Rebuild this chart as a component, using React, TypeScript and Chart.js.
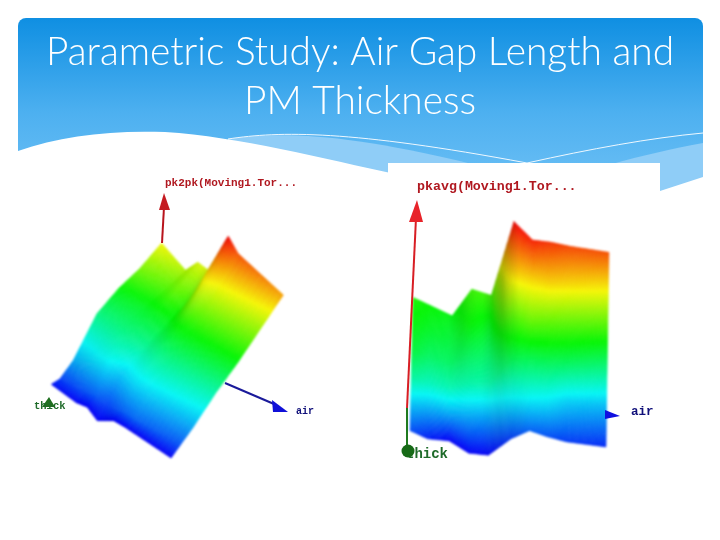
import React, { useEffect, useRef } from "react";
import { Chart, registerables } from "chart.js";

Chart.register(...registerables);

const titleLines = ["Parametric Study: Air Gap Length and", "PM Thickness"];

// pk2pk surface
const pk2pkAir = [0, 0.21, 0.3, 0.39, 0.52, 0.61, 1];
const pk2pkThick = [0, 0.2, 0.4, 0.6, 0.8, 0.92, 1];
const pk2pkValues = [
  [0.7, 0.63, 0.71, 0.7, 0.94, 0.88, 0.8],
  [0.58, 0.54, 0.57, 0.53, 0.72, 0.69, 0.635],
  [0.49, 0.46, 0.47, 0.43, 0.5, 0.5, 0.47],
  [0.37, 0.38, 0.37, 0.33, 0.38, 0.37, 0.32],
  [0.13, 0.22, 0.24, 0.2, 0.2, 0.2, 0.15],
  [0.04, 0.05, 0.06, 0.04, 0.06, 0.06, 0.06],
  [0.02, 0, 0.01, -0.03, 0.02, 0.02, 0],
];
const pk2pkLevels = [
  [0.75, 0.68, 0.72, 0.72, 1.0, 0.92, 0.84],
  [0.62, 0.57, 0.6, 0.55, 0.76, 0.72, 0.66],
  [0.49, 0.46, 0.47, 0.45, 0.52, 0.52, 0.49],
  [0.37, 0.38, 0.37, 0.34, 0.38, 0.38, 0.33],
  [0.17, 0.24, 0.25, 0.2, 0.22, 0.22, 0.17],
  [0.06, 0.08, 0.09, 0.06, 0.09, 0.1, 0.08],
  [0.02, 0, 0, 0, 0, 0, 0],
];

// pkavg surface
const pkavgAir = [0, 0.09, 0.2, 0.3, 0.4, 0.515, 0.61, 0.7, 0.8, 1];
const pkavgThick = [0, 0.2, 0.4, 0.6, 0.8, 1];
const pkavgValues = [
  [0.72, 0.68, 0.63, 0.76, 0.73, 1.09, 1.0, 0.99, 0.97, 0.94],
  [0.59, 0.56, 0.51, 0.6, 0.58, 0.85, 0.8, 0.79, 0.78, 0.75],
  [0.46, 0.43, 0.4, 0.46, 0.44, 0.62, 0.6, 0.6, 0.59, 0.56],
  [0.33, 0.3, 0.28, 0.3, 0.3, 0.42, 0.42, 0.42, 0.41, 0.38],
  [0.2, 0.17, 0.15, 0.15, 0.14, 0.22, 0.25, 0.23, 0.21, 0.19],
  [0.07, 0.03, 0.02, -0.04, -0.05, 0.03, 0.07, 0.04, 0.015, -0.01],
];
const pkavgLevels = [
  [0.53, 0.5, 0.48, 0.56, 0.56, 1.0, 0.97, 0.95, 0.93, 0.92],
  [0.49, 0.46, 0.44, 0.5, 0.47, 0.8, 0.78, 0.79, 0.78, 0.75],
  [0.44, 0.4, 0.4, 0.42, 0.4, 0.58, 0.6, 0.6, 0.59, 0.56],
  [0.34, 0.31, 0.32, 0.33, 0.33, 0.42, 0.42, 0.43, 0.42, 0.38],
  [0.2, 0.17, 0.17, 0.18, 0.17, 0.24, 0.27, 0.25, 0.21, 0.19],
  [0.08, 0.03, 0, 0, 0, 0.06, 0.1, 0.08, 0.06, 0.04],
];

type View = (u: number, w: number, z: number) => [number, number];
const leftView: View = (u, w, z) => [149 + 120 * u - 98 * w + 18 * z, 369 + 70 * u + 19 * w - 180 * z];
const rightView: View = (u, w, z) => [413 + 196 * u - 3 * w, 445 - 205 * z];

function sample(table: number[][], air: number[], thick: number[], u: number, w: number) {
  const find = (a: number[], v: number) => {
    let i = 0;
    while (i < a.length - 2 && v > a[i + 1]) i++;
    return [i, Math.min(1, Math.max(0, (v - a[i]) / (a[i + 1] - a[i])))];
  };
  const [i, fu] = find(air, u);
  const [j, fw] = find(thick, w);
  const top = table[j][i] * (1 - fu) + table[j][i + 1] * fu;
  const bot = table[j + 1][i] * (1 - fu) + table[j + 1][i + 1] * fu;
  return top * (1 - fw) + bot * fw;
}

const surfaces = [
  { air: pk2pkAir, thick: pk2pkThick, values: pk2pkValues, levels: pk2pkLevels, view: leftView },
  { air: pkavgAir, thick: pkavgThick, values: pkavgValues, levels: pkavgLevels, view: rightView },
];
const COL_STEPS = 10;
const ROW_STEPS = 24;

const axes = [
  { color: "#b8141c", pts: [{ x: 162, y: 243 }, { x: 164, y: 207 }] },
  { color: "#1a1a9a", pts: [{ x: 225, y: 383 }, { x: 274, y: 404 }] },
  { color: "#d81e24", pts: [{ x: 407, y: 408 }, { x: 416, y: 218 }] },
  { color: "#1f7a1f", pts: [{ x: 407, y: 408 }, { x: 407, y: 448 }] },
];
const arrowHeads = [
  { color: "#c41a20", pts: [[159, 210], [170, 210], [164, 193]] },
  { color: "#1010d8", pts: [[272, 400], [273, 412], [288, 412]] },
  { color: "#e8242a", pts: [[409, 222], [423, 222], [417, 200]] },
  { color: "#1010e0", pts: [[605, 410], [605, 419], [620, 416]] },
  { color: "#1f6f1f", pts: [[42, 407], [55, 407], [49, 397]] },
];
const labels = [
  { text: "pk2pk(Moving1.Tor...", x: 165, y: 183, size: 11, color: "#b01820" },
  { text: "thick", x: 34, y: 406, size: 10.5, color: "#1f6b2a" },
  { text: "air", x: 296, y: 411, size: 10, color: "#10107a" },
  { text: "pkavg(Moving1.Tor...", x: 417, y: 187, size: 13.3, color: "#b01820" },
  { text: "thick", x: 406, y: 454, size: 14, color: "#1f6b2a" },
  { text: "air", x: 631, y: 412, size: 12.5, color: "#10107a" },
];

const thinLine = (ctx: any, X: any, Y: any, start: boolean) => {
  if (start) ctx.moveTo(X(228), Y(139));
  ctx.bezierCurveTo(X(280), Y(131), X(350), Y(130), X(527), Y(163));
  ctx.bezierCurveTo(X(590), Y(149), X(650), Y(138), X(703), Y(133));
};

const backdrop = {
  id: "backdrop",
  beforeDatasetsDraw(chart: any) {
    const { ctx, scales } = chart;
    const X = (v: number) => scales.x.getPixelForValue(v);
    const Y = (v: number) => scales.y.getPixelForValue(v);

    ctx.save();
    const grad = ctx.createLinearGradient(0, Y(18), 0, Y(190));
    grad.addColorStop(0, "#0f8fe2");
    grad.addColorStop(0.55, "#4db0f0");
    grad.addColorStop(1, "#6dc0f5");
    ctx.fillStyle = grad;
    ctx.beginPath();
    ctx.roundRect(X(18), Y(18), X(703) - X(18), Y(195) - Y(18), [8, 8, 0, 0]);
    ctx.fill();

    // light bands
    ctx.fillStyle = "#8fcdf7";
    ctx.beginPath();
    ctx.moveTo(X(228), Y(139));
    ctx.bezierCurveTo(X(280), Y(132), X(340), Y(132), X(472), Y(164));
    ctx.lineTo(X(480), Y(200));
    ctx.lineTo(X(228), Y(200));
    ctx.closePath();
    ctx.fill();
    ctx.beginPath();
    ctx.moveTo(X(612), Y(164));
    ctx.bezierCurveTo(X(640), Y(156), X(675), Y(148), X(703), Y(143));
    ctx.lineTo(X(703), Y(200));
    ctx.lineTo(X(612), Y(200));
    ctx.closePath();
    ctx.fill();

    ctx.strokeStyle = "#eef8ff";
    ctx.lineWidth = 1;
    ctx.beginPath();
    thinLine(ctx, X, Y, true);
    ctx.stroke();

    // white lower part
    ctx.fillStyle = "#ffffff";
    ctx.beginPath();
    ctx.moveTo(X(18), Y(151));
    ctx.bezierCurveTo(X(60), Y(136), X(110), Y(130), X(165), Y(132));
    ctx.bezierCurveTo(X(240), Y(137), X(320), Y(158), X(400), Y(175));
    ctx.lineTo(X(660), Y(191));
    ctx.lineTo(X(703), Y(177));
    ctx.lineTo(X(703), Y(205));
    ctx.lineTo(X(18), Y(205));
    ctx.closePath();
    ctx.fill();
    ctx.fillRect(X(388), Y(163), X(660) - X(388), Y(205) - Y(163));

    // title
    ctx.fillStyle = "#ffffff";
    ctx.textAlign = "center";
    ctx.textBaseline = "middle";
    ctx.font = '300 38.9px Lato';
    ctx.fillText(titleLines[0], X(360), Y(52));
    ctx.fillText(titleLines[1], X(360), Y(101));

    // surfaces, painted from the back to the front on a layer softened as a whole
    const layer = document.createElement("canvas");
    layer.width = ctx.canvas.width;
    layer.height = ctx.canvas.height;
    const lc = layer.getContext("2d")!;
    for (const s of surfaces) {
      const { air, thick, values, levels, view } = s;
      const ptsAt = (ci: number, cj: number) => {
        const i = Math.min(air.length - 2, Math.floor(ci));
        const j = Math.min(thick.length - 2, Math.floor(cj));
        const u = air[i] + (air[i + 1] - air[i]) * (ci - i);
        const w = thick[j] + (thick[j + 1] - thick[j]) * (cj - j);
        return [u, w];
      };
      const project = (ci: number, cj: number) => {
        const [u, w] = ptsAt(ci, cj);
        const [x, y] = view(u, w, sample(values, air, thick, u, w));
        return [X(x), Y(y)];
      };
      for (let j = 0; j < thick.length - 1; j++) {
        for (let a = 0; a < ROW_STEPS; a++) {
          for (let i = 0; i < air.length - 1; i++) {
            for (let b = 0; b < COL_STEPS; b++) {
              const c0 = i + b / COL_STEPS;
              const c1 = i + (b + 1) / COL_STEPS;
              const r0 = j + a / ROW_STEPS;
              const r1 = j + (a + 1) / ROW_STEPS;
              const [u, w] = ptsAt((c0 + c1) / 2, (r0 + r1) / 2);
              const lvl = Math.max(0, Math.min(1, sample(levels, air, thick, u, w)));
              const slope =
                (sample(values, air, thick, Math.min(1, u + 0.05), w) -
                  sample(values, air, thick, Math.max(0, u - 0.05), w)) / 0.1;
              const shade = 1 - Math.min(0.25, Math.max(0, slope) * 0.09);
              const color = `hsl(${240 * (1 - lvl)},100%,${48 * shade}%)`;
              lc.fillStyle = color;
              lc.strokeStyle = color;
              lc.lineWidth = 0.5;
              const p = [project(c0, r0), project(c1, r0), project(c1, r1), project(c0, r1)];
              lc.beginPath();
              lc.moveTo(p[0][0], p[0][1]);
              for (let k = 1; k < 4; k++) lc.lineTo(p[k][0], p[k][1]);
              lc.closePath();
              lc.fill();
              lc.stroke();
            }
          }
        }
      }
    }
    ctx.filter = "blur(1.2px)";
    ctx.drawImage(layer, 0, 0);
    ctx.filter = "none";
    ctx.restore();
  },
  afterDatasetsDraw(chart: any) {
    const { ctx, scales } = chart;
    const X = (v: number) => scales.x.getPixelForValue(v);
    const Y = (v: number) => scales.y.getPixelForValue(v);
    ctx.save();
    for (const h of arrowHeads) {
      ctx.fillStyle = h.color;
      ctx.beginPath();
      h.pts.forEach((p, i) => (i ? ctx.lineTo(X(p[0]), Y(p[1])) : ctx.moveTo(X(p[0]), Y(p[1]))));
      ctx.closePath();
      ctx.fill();
    }
    ctx.textAlign = "left";
    ctx.textBaseline = "middle";
    for (const l of labels) {
      ctx.font = `bold ${l.size}px "Liberation Mono"`;
      ctx.fillStyle = l.color;
      ctx.fillText(l.text, X(l.x), Y(l.y));
    }
    ctx.fillStyle = "#176a17";
    ctx.beginPath();
    ctx.arc(X(408), Y(451), 6.5, 0, Math.PI * 2);
    ctx.fill();
    ctx.restore();
  },
};

export default function App() {
  const ref = useRef<HTMLCanvasElement>(null);
  useEffect(() => {
    document.body.style.margin = "0";
    document.body.style.background = "#ffffff";
    const chart = new Chart(ref.current!, {
      type: "scatter",
      data: {
        datasets: axes.map((a) => ({
          data: a.pts,
          showLine: true,
          borderColor: a.color,
          borderWidth: 2,
          pointRadius: 0,
        })),
      },
      options: {
        responsive: false,
        animation: false,
        layout: { padding: 0 },
        plugins: { legend: { display: false }, tooltip: { enabled: false }, title: { display: false } },
        scales: {
          x: { type: "linear", min: 0, max: 720, display: false },
          y: { type: "linear", min: 0, max: 540, reverse: true, display: false },
        },
      },
      plugins: [backdrop],
    } as any);
    return () => chart.destroy();
  }, []);
  return <canvas ref={ref} width={720} height={540} style={{ display: "block" }} />;
}
